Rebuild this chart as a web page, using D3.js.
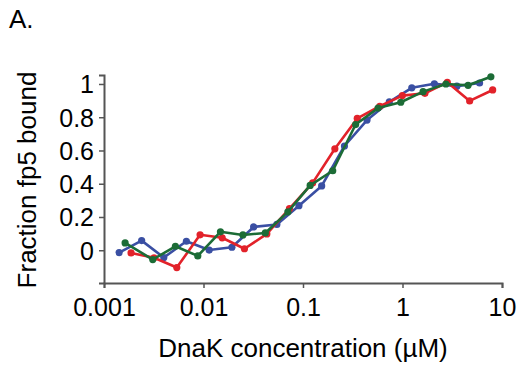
<!DOCTYPE html>
<html>
<head>
<meta charset="utf-8">
<script src="https://cdn.jsdelivr.net/npm/d3@7"></script>
<style>
  body { margin: 0; background: #fff; }
  text { font-family: "Liberation Sans", Arial, sans-serif; fill: #000; }
</style>
</head>
<body>
<svg id="chart"></svg>
<script>
// concentrations (uM) and fraction bound for each of the three runs
const RED_X = [0.00187, 0.00318, 0.00539, 0.00924, 0.0154, 0.0258, 0.0433, 0.0731, 0.125, 0.209, 0.351, 0.591, 0.996, 1.68, 2.82, 4.73, 8.06];
const RED_Y = [-0.016, -0.045, -0.104, 0.093, 0.075, 0.009, 0.098, 0.25, 0.405, 0.61, 0.793, 0.866, 0.93, 0.944, 1.01, 0.898, 0.964];

const BLUE_X = [0.00142, 0.00239, 0.00399, 0.00673, 0.0114, 0.0193, 0.0319, 0.0546, 0.091, 0.154, 0.261, 0.44, 0.737, 1.24, 2.09, 3.52, 5.95];
const BLUE_Y = [-0.014, 0.058, -0.044, 0.054, 0.001, 0.018, 0.14, 0.155, 0.268, 0.387, 0.627, 0.783, 0.892, 0.977, 1.001, 0.987, 1.006];

const GREEN_X = [0.00163, 0.00309, 0.00522, 0.00876, 0.0148, 0.0249, 0.0418, 0.0705, 0.118, 0.199, 0.338, 0.568, 0.961, 1.61, 2.73, 4.56, 7.73];
const GREEN_Y = [0.044, -0.056, 0.024, -0.034, 0.111, 0.092, 0.104, 0.231, 0.39, 0.478, 0.756, 0.855, 0.89, 0.954, 1.0, 0.992, 1.043];

const X_TICKS = [0.001, 0.01, 0.1, 1, 10];
const X_TICK_LABELS = ["0.001", "0.01", "0.1", "1", "10"];
const Y_TICKS = [0, 0.2, 0.4, 0.6, 0.8, 1];
const Y_TICK_LABELS = ["0", "0.2", "0.4", "0.6", "0.8", "1"];

const WIDTH = 519, HEIGHT = 371;
const MARGIN = {top: 75, right: 17, bottom: 88, left: 104};
const W = WIDTH - MARGIN.left - MARGIN.right;
const H = HEIGHT - MARGIN.top - MARGIN.bottom;

const series = [
  {xs: BLUE_X, ys: BLUE_Y, color: "#3a4fa3"},
  {xs: RED_X, ys: RED_Y, color: "#e2222a"},
  {xs: GREEN_X, ys: GREEN_Y, color: "#1c6c36"}
];

const x = d3.scaleLog().domain([0.001, 10]).range([0, W]);
const y = d3.scaleLinear().domain([-0.197, 1.054]).range([H, 0]);

const svg = d3.select("#chart").attr("width", WIDTH).attr("height", HEIGHT);

svg.append("text")
  .attr("x", 9).attr("y", 28)
  .style("font-size", "26px")
  .text("A.");

const g = svg.append("g").attr("transform", `translate(${MARGIN.left},${MARGIN.top})`);

const xAxis = g.append("g")
  .attr("transform", `translate(0,${H})`)
  .call(d3.axisBottom(x).tickValues(X_TICKS).tickFormat((d, i) => X_TICK_LABELS[i]).tickSizeOuter(5).tickSize(5).tickPadding(10));

const yAxis = g.append("g")
  .call(d3.axisLeft(y).tickValues(Y_TICKS).tickFormat((d, i) => Y_TICK_LABELS[i]).tickSizeOuter(0).tickSize(5).tickPadding(5));

[xAxis, yAxis].forEach(ax => {
  ax.select(".domain").attr("stroke", "#555").attr("stroke-width", 2);
  ax.selectAll(".tick line").attr("stroke", "#555").attr("stroke-width", 1.5);
  ax.selectAll(".tick text").style("font-size", "25px").attr("fill", "#000");
});
yAxis.selectAll(".tick text").attr("dy", "0.36em");

const line = d3.line().x(d => x(d[0])).y(d => y(d[1]));

series.forEach(s => {
  const pts = s.xs.map((v, i) => [v, s.ys[i]]);
  g.append("path")
    .datum(pts)
    .attr("d", line)
    .attr("fill", "none")
    .attr("stroke", s.color)
    .attr("stroke-width", 2.6)
    .attr("stroke-linejoin", "round");
  g.selectAll(null)
    .data(pts)
    .enter()
    .append("circle")
    .attr("cx", d => x(d[0]))
    .attr("cy", d => y(d[1]))
    .attr("r", 3.6)
    .attr("fill", s.color);
});

svg.append("text")
  .attr("x", MARGIN.left + W / 2)
  .attr("y", 357)
  .attr("text-anchor", "middle")
  .style("font-size", "26px")
  .text("DnaK concentration (\u00b5M)");

svg.append("text")
  .attr("transform", `translate(36,180) rotate(-90)`)
  .attr("text-anchor", "middle")
  .style("font-size", "26px")
  .text("Fraction fp5 bound");
</script>
</body>
</html>
